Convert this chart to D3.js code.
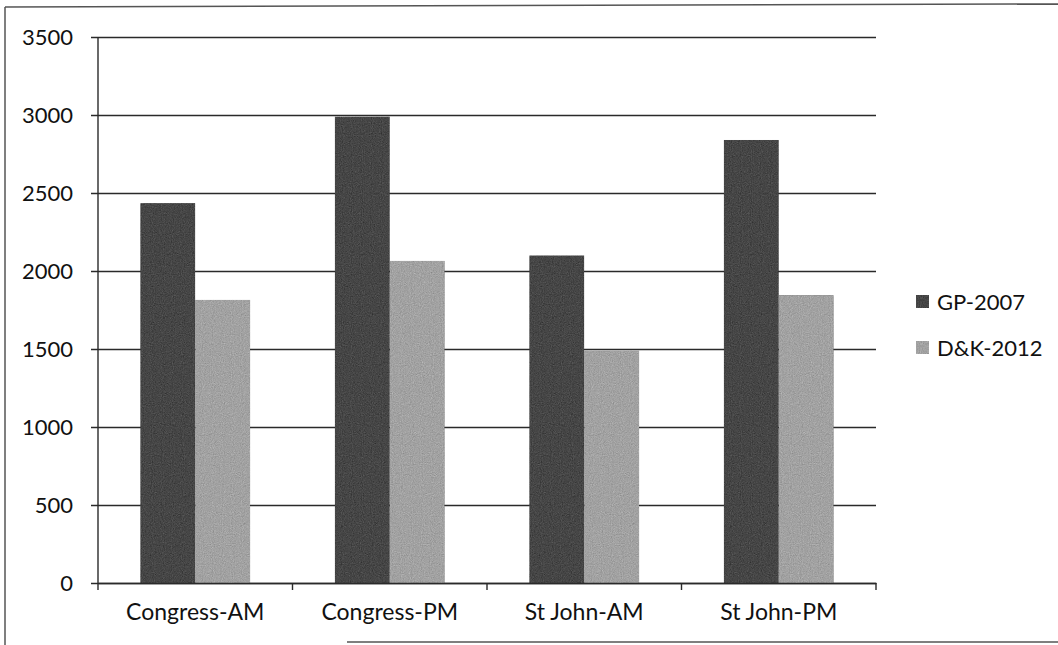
<!DOCTYPE html>
<html>
<head>
<meta charset="utf-8">
<script src="https://cdn.jsdelivr.net/npm/d3@7"></script>
<style>
  html, body { margin: 0; padding: 0; background: #fff; }
  svg { display: block; }
  text { font-family: "Lato", "Open Sans", sans-serif; fill: #111; }
</style>
</head>
<body>
<svg id="chart" width="1058" height="645"></svg>
<script>
// Traffic counts by site and period, two survey sources
const categories = ["Congress-AM", "Congress-PM", "St John-AM", "St John-PM"];
const seriesNames = ["GP-2007", "D&K-2012"];
const gp2007 = [2435, 2990, 2100, 2840];
const dk2012 = [1815, 2065, 1490, 1845];
const yTicks = [0, 500, 1000, 1500, 2000, 2500, 3000, 3500];

const seriesValues = [gp2007, dk2012];
const colors = ["#464646", "#a2a2a2"];

const W = 1058, H = 645;
const plot = { left: 98, right: 876, top: 37, bottom: 583 };

const svg = d3.select("#chart");

// fine print grain for the bar fills
const defs = svg.append("defs");
const grain = defs.append("filter").attr("id", "grain")
  .attr("x", 0).attr("y", 0).attr("width", 1).attr("height", 1)
  .attr("color-interpolation-filters", "sRGB");
grain.append("feTurbulence").attr("type", "fractalNoise")
  .attr("baseFrequency", 0.9).attr("numOctaves", 2).attr("seed", 3).attr("result", "noise");
grain.append("feColorMatrix").attr("in", "noise").attr("type", "matrix")
  .attr("values", "0.33 0.33 0.33 0 0  0.33 0.33 0.33 0 0  0.33 0.33 0.33 0 0  0 0 0 0 1")
  .attr("result", "gnoise");
grain.append("feComposite").attr("in", "SourceGraphic").attr("in2", "gnoise")
  .attr("operator", "arithmetic").attr("k1", 0).attr("k2", 1).attr("k3", 0.35).attr("k4", -0.175)
  .attr("result", "mixed");
grain.append("feComposite").attr("in", "mixed").attr("in2", "SourceGraphic").attr("operator", "in");

// outer frame
const frame = svg.append("g").attr("stroke", "#555").attr("stroke-width", 1.5).attr("fill", "none");
frame.append("line").attr("x1", 5).attr("y1", 7).attr("x2", W).attr("y2", 4);
frame.append("line").attr("x1", 5).attr("y1", 7).attr("x2", 5).attr("y2", H);
frame.append("line").attr("x1", 347).attr("y1", 642).attr("x2", W).attr("y2", 642);

const x0 = d3.scaleBand().domain(categories).range([plot.left, plot.right]).paddingInner(0).paddingOuter(0);
const x1 = d3.scaleBand().domain(seriesNames).range([0, x0.bandwidth()]).paddingInner(0).paddingOuter(0.77);
const y = d3.scaleLinear().domain([0, 3500]).range([plot.bottom, plot.top]);

// horizontal gridlines with y ticks
const yAxis = d3.axisLeft(y).tickValues(yTicks).tickFormat(d3.format("d"))
  .tickSize(-(plot.right - plot.left)).tickSizeOuter(0).tickPadding(25);
const yg = svg.append("g").attr("transform", `translate(${plot.left},0)`).call(yAxis);
yg.select(".domain").remove();
yg.selectAll(".tick line").attr("stroke", "#2a2a2a").attr("stroke-width", 1.4).attr("x1", -7);
yg.selectAll(".tick text").style("font-size", "22px").attr("fill", "#111");

// bars
const groups = svg.append("g").selectAll("g").data(categories).join("g")
  .attr("transform", d => `translate(${x0(d)},0)`);
groups.selectAll("rect")
  .data((c, i) => seriesNames.map((s, j) => ({ s, v: seriesValues[j][i], j })))
  .join("rect")
  .attr("x", d => x1(d.s))
  .attr("width", x1.bandwidth())
  .attr("y", d => y(d.v))
  .attr("height", d => y(0) - y(d.v))
  .attr("fill", d => colors[d.j])
  .attr("filter", "url(#grain)");

// vertical axis line
svg.append("line").attr("x1", plot.left).attr("x2", plot.left)
  .attr("y1", plot.top).attr("y2", plot.bottom)
  .attr("stroke", "#2a2a2a").attr("stroke-width", 1.4);

// category axis with boundary ticks
const xAxis = d3.axisBottom(x0).tickSize(0).tickPadding(21);
const xg = svg.append("g").attr("transform", `translate(0,${plot.bottom})`).call(xAxis);
xg.select(".domain").attr("stroke", "#2a2a2a").attr("stroke-width", 1.4);
xg.selectAll(".tick text").style("font-size", "23px").attr("fill", "#111");
const bounds = categories.map(c => x0(c)).concat([plot.right]);
xg.selectAll("line.bound").data(bounds).join("line").attr("class", "bound")
  .attr("x1", d => d).attr("x2", d => d).attr("y1", 0).attr("y2", 7)
  .attr("stroke", "#2a2a2a").attr("stroke-width", 1.4);

// legend
const legend = svg.append("g").attr("transform", "translate(916,295)");
const items = legend.selectAll("g").data(seriesNames).join("g")
  .attr("transform", (d, i) => `translate(0,${i * 46})`);
items.append("rect").attr("width", 13).attr("height", 13)
  .attr("fill", (d, i) => colors[i]).attr("filter", "url(#grain)");
items.append("text").attr("x", 21).attr("y", 7).attr("dy", "0.35em")
  .style("font-size", "22px").text(d => d);
</script>
</body>
</html>
